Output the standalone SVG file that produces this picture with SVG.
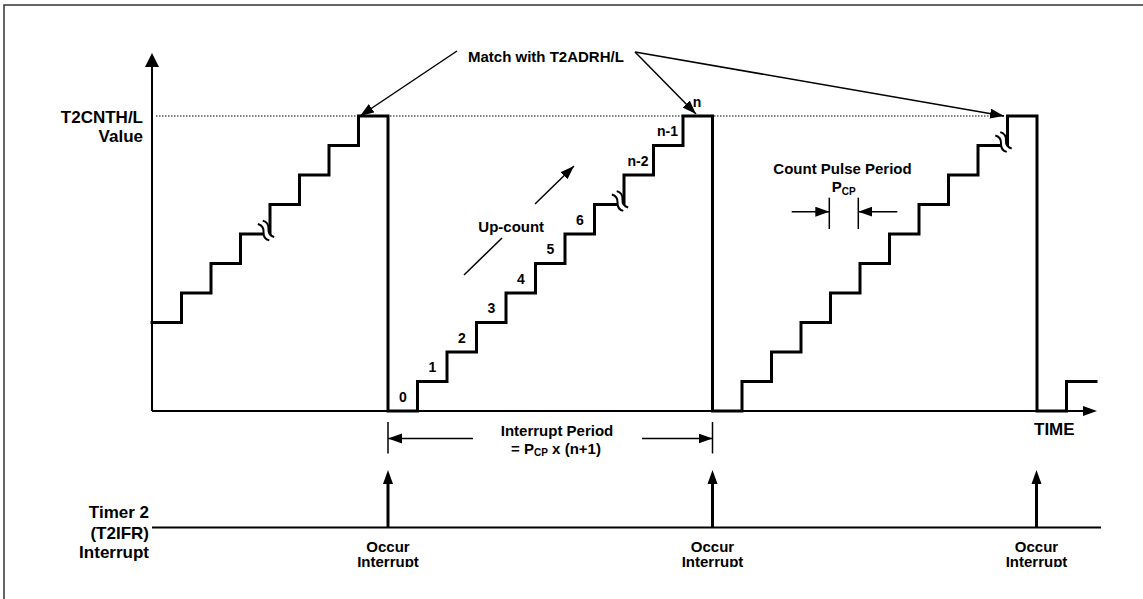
<svg xmlns="http://www.w3.org/2000/svg" width="1143" height="599" viewBox="0 0 1143 599">
<style>
text{font-family:"Liberation Sans",Arial,sans-serif;font-weight:bold;fill:#000}
.lbl{font-size:17px}
.t15{font-size:15px}
.t14{font-size:14px}
.mid{text-anchor:middle}
.end{text-anchor:end}
.axis{stroke:#000;stroke-width:2;fill:none}
.stair{stroke:#000;stroke-width:3;fill:none;stroke-linejoin:miter;stroke-linecap:square}
.thin{stroke:#000;stroke-width:1.5;fill:none}
.irq{stroke:#000;stroke-width:3;fill:none}
.dot{stroke:#000;stroke-width:1.2;stroke-dasharray:1.5 1.5;fill:none}
.wave{stroke:#000;stroke-width:2;fill:none}
</style>
<defs>
<marker id="ah" markerUnits="userSpaceOnUse" markerWidth="15" markerHeight="11" refX="14" refY="5" orient="auto">
<path d="M0,0 L14,5 L0,10 z" fill="#000"/>
</marker>
<clipPath id="occclip"><rect x="0" y="0" width="1143" height="567"/></clipPath>
<g id="brk">
<path d="M-10,-3 Q-5,-7 0,-3 Q5,1 10,-3 L10,3 Q5,7 0,3 Q-5,-1 -10,3 z" fill="#fff"/>
<path class="wave" d="M-10,-3 Q-5,-7 0,-3 Q5,1 10,-3"/>
<path class="wave" d="M-10,3 Q-5,-1 0,3 Q5,7 10,3"/>
</g>
</defs>
<rect width="1143" height="599" fill="#fff"/>
<g id="frame">
<path d="M4,599 V5 H1143" fill="none" stroke="#333" stroke-width="1.5"/>
</g>
<g id="axes">
<line class="axis" x1="152" y1="411" x2="152" y2="66"/>
<polygon points="152,53 145,67 159,67" fill="#000"/>
<line class="axis" x1="152" y1="411" x2="1084" y2="411"/>
<polygon points="1097,411 1083,406 1083,416" fill="#000"/>
<line class="dot" x1="156" y1="116" x2="1004" y2="116"/>
<text class="lbl end" x="143" y="122.7">T2CNTH/L</text>
<text class="lbl end" x="143" y="141.7">Value</text>
<text class="lbl" x="1034" y="434.5">TIME</text>
</g>
<g id="counter">
<path class="stair" d="M152,322.5 H181.5 V293 H211 V263.5 H240.5 V234 H270 V204.5 H299.5 V175 H329 V145.5 H358.5 V116 H388 V411 H417.5 V381.5 H447 V352 H476.5 V322.5 H506 V293 H535.5 V263.5 H565 V234 H594.5 V204.5 H624 V175 H653.5 V145.5 H683 V116 H712.5 V411 H742 V381.5 H771.5 V352 H801 V322.5 H830.5 V293 H860 V263.5 H889.5 V234 H919 V204.5 H948.5 V175 H978 V145.5 H1007.5 V116 H1037 V411 H1066.5 V381.5 H1096"/>
<use href="#brk" transform="translate(266,230.5) rotate(55)"/>
<use href="#brk" transform="translate(620,201) rotate(55)"/>
<use href="#brk" transform="translate(1003.5,142) rotate(55)"/>
</g>
<g id="step-labels">
<text class="t14 mid" x="403" y="401.5">0</text>
<text class="t14 mid" x="432.5" y="372">1</text>
<text class="t14 mid" x="462" y="342.5">2</text>
<text class="t14 mid" x="491.5" y="313">3</text>
<text class="t14 mid" x="521" y="283.5">4</text>
<text class="t14 mid" x="550.5" y="254">5</text>
<text class="t14 mid" x="580" y="224.5">6</text>
<text class="t14 mid" x="638" y="165.5">n-2</text>
<text class="t14 mid" x="667.5" y="136">n-1</text>
<text class="t14 mid" x="697" y="107">n</text>
</g>
<g id="match">
<text class="t15" x="468" y="62">Match with T2ADRH/L</text>
<g id="match-arrows">
<line class="thin" x1="457" y1="51" x2="360" y2="116" marker-end="url(#ah)"/>
<line class="thin" x1="635" y1="52" x2="696" y2="114" marker-end="url(#ah)"/>
<line class="thin" x1="635" y1="52" x2="1004" y2="116" marker-end="url(#ah)"/>
</g>
</g>
<g id="upcount">
<line class="thin" x1="464" y1="275" x2="502" y2="238"/>
<line class="thin" x1="535" y1="204" x2="574" y2="166" marker-end="url(#ah)"/>
<text class="t15" x="478.3" y="232.3">Up-count</text>
</g>
<g id="pulse-period">
<text class="t15 mid" x="842.5" y="174">Count Pulse Period</text>
<text class="t15" x="831.7" y="191.7">P<tspan font-size="10" dy="3.3">CP</tspan></text>
<line class="thin" x1="829.3" y1="197.7" x2="829.3" y2="229"/>
<line class="thin" x1="858.3" y1="197.7" x2="858.3" y2="229"/>
<line class="thin" x1="791.7" y1="211.7" x2="829.3" y2="211.7" marker-end="url(#ah)"/>
<line class="thin" x1="897.3" y1="211.7" x2="858.3" y2="211.7" marker-end="url(#ah)"/>
</g>
<g id="interrupt-period">
<line class="thin" x1="388" y1="422" x2="388" y2="453.5"/>
<line class="thin" x1="712.5" y1="422" x2="712.5" y2="453.5"/>
<line class="thin" x1="473" y1="438.5" x2="388" y2="438.5" marker-end="url(#ah)"/>
<line class="thin" x1="642" y1="438.5" x2="712.5" y2="438.5" marker-end="url(#ah)"/>
<text class="t15 mid" x="557" y="435.5">Interrupt Period</text>
<text class="t15 mid" x="556" y="454">= P<tspan font-size="10" dy="2">CP</tspan><tspan dy="-2"> x (n+1)</tspan></text>
</g>
<g id="timer2-interrupt">
<text class="lbl end" x="149" y="518.3">Timer 2</text>
<text class="lbl end" x="149" y="538.8">(T2IFR)</text>
<text class="lbl end" x="149" y="558.3">Interrupt</text>
<line class="axis" x1="152" y1="527.5" x2="1101" y2="527.5"/>
<line class="irq" x1="388" y1="527.5" x2="388" y2="482"/>
<polygon points="388,470 383,484 393,484" fill="#000"/>
<line class="irq" x1="712.5" y1="527.5" x2="712.5" y2="482"/>
<polygon points="712.5,470 707.5,484 717.5,484" fill="#000"/>
<line class="irq" x1="1036.5" y1="527.5" x2="1036.5" y2="482"/>
<polygon points="1036.5,470 1031.5,484 1041.5,484" fill="#000"/>
<g clip-path="url(#occclip)">
<text class="t15 mid" x="388" y="551.7">Occur</text>
<text class="t15 mid" x="388" y="567">Interrupt</text>
<text class="t15 mid" x="712.5" y="551.7">Occur</text>
<text class="t15 mid" x="712.5" y="567">Interrupt</text>
<text class="t15 mid" x="1036.5" y="551.7">Occur</text>
<text class="t15 mid" x="1036.5" y="567">Interrupt</text>
</g>
</g>
</svg>
